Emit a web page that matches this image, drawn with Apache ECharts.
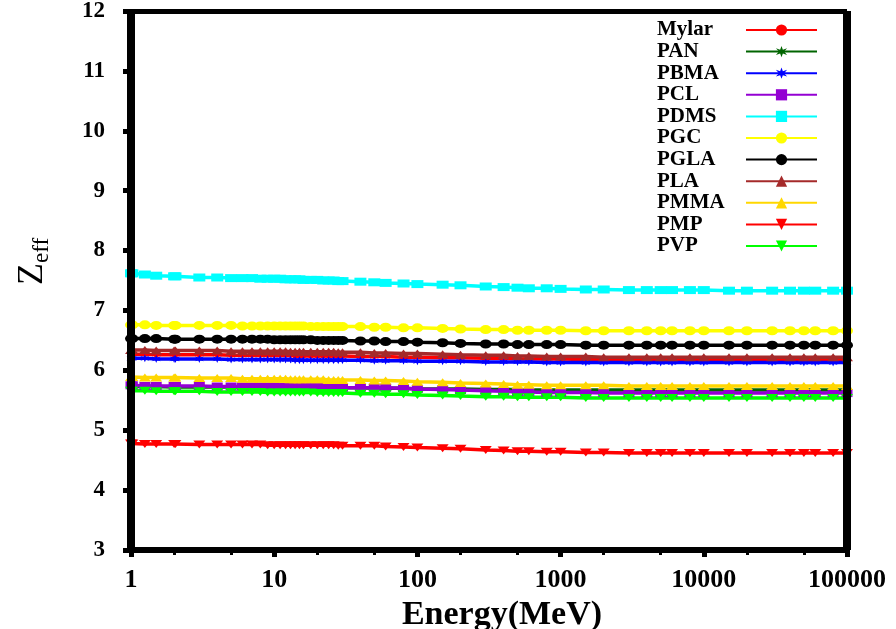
<!DOCTYPE html>
<html>
<head>
<meta charset="utf-8">
<script src="https://cdn.jsdelivr.net/npm/echarts@6/dist/echarts.min.js"></script>
<style>
  html, body { margin: 0; padding: 0; background: #ffffff; overflow: hidden; }
  #chart { width: 896px; height: 629px; }
</style>
</head>
<body>
<div id="chart"></div>
<script>
// Photon energies (MeV)
const energies = [1, 1.022, 1.25, 1.5, 2, 2.044, 3, 4, 5, 6, 7, 8, 9, 10,
  11, 12, 13, 14, 15, 16, 18, 20, 22, 24, 26, 28, 30,
  40, 50, 60, 80, 100, 150, 200, 300, 400, 500, 600, 800, 1000,
  1500, 2000, 3000, 4000, 5000, 6000, 8000, 10000,
  15000, 20000, 30000, 40000, 50000, 60000, 80000, 100000];

// Effective atomic number of each polymer at those energies
const mylar = [6.27,6.27,6.27,6.26,6.26,6.26, 6.26,6.26,6.25,6.25,6.25,6.25,6.25,6.25,
  6.25,6.25,6.25,6.24,6.24,6.24, 6.24,6.24,6.24,6.24,6.24,6.24,6.24,
  6.23,6.23,6.23,6.22,6.22, 6.21,6.21,6.20,6.20,6.19,6.19,6.19,6.19,
  6.18,6.18,6.18,6.18,6.18,6.18,6.18,6.18, 6.18,6.18,6.18,6.18,6.18,6.18,6.18,6.18];
const pan = [5.73,5.73,5.73,5.73,5.72,5.72, 5.72,5.72,5.72,5.72,5.72,5.72,5.72,5.72,
  5.72,5.71,5.71,5.71,5.71,5.71, 5.71,5.71,5.71,5.71,5.71,5.71,5.71,
  5.71,5.70,5.70,5.70,5.69, 5.69,5.69,5.68,5.68,5.68,5.67,5.67,5.67,
  5.67,5.67,5.67,5.67,5.67,5.67,5.67,5.67, 5.67,5.67,5.67,5.67,5.67,5.67,5.67,5.67];
const pbma = [6.20,6.20,6.20,6.19,6.19,6.19, 6.19,6.19,6.18,6.18,6.18,6.18,6.18,6.18,
  6.18,6.18,6.18,6.17,6.17,6.17, 6.17,6.17,6.17,6.17,6.17,6.17,6.17,
  6.17,6.16,6.16,6.16,6.15, 6.15,6.15,6.14,6.14,6.14,6.14,6.13,6.13,
  6.13,6.13,6.13,6.13,6.13,6.13,6.13,6.13, 6.13,6.13,6.13,6.13,6.13,6.13,6.13,6.13];
const pcl = [5.75,5.75,5.74,5.74,5.74,5.74, 5.74,5.73,5.73,5.73,5.73,5.73,5.73,5.73,
  5.72,5.72,5.72,5.72,5.72,5.72, 5.72,5.72,5.72,5.72,5.72,5.71,5.71,
  5.71,5.71,5.71,5.70,5.69, 5.68,5.67,5.66,5.65,5.64,5.64,5.63,5.63,
  5.63,5.62,5.62,5.62,5.62,5.62,5.62,5.62, 5.62,5.62,5.62,5.62,5.62,5.62,5.62,5.62];
const pdms = [7.62,7.62,7.60,7.58,7.57,7.57, 7.55,7.55,7.54,7.54,7.54,7.53,7.53,7.53,
  7.53,7.52,7.52,7.52,7.52,7.51, 7.51,7.51,7.50,7.50,7.50,7.49,7.49,
  7.48,7.47,7.46,7.45,7.44, 7.43,7.42,7.40,7.39,7.38,7.37,7.37,7.36,
  7.35,7.35,7.34,7.34,7.34,7.34,7.34,7.34, 7.33,7.33,7.33,7.33,7.33,7.33,7.33,7.33];
const pgc = [6.76,6.76,6.76,6.75,6.75,6.75, 6.75,6.75,6.75,6.74,6.74,6.74,6.74,6.74,
  6.74,6.74,6.74,6.74,6.74,6.74, 6.73,6.73,6.73,6.73,6.73,6.73,6.73,
  6.73,6.72,6.72,6.71,6.71, 6.70,6.69,6.68,6.68,6.67,6.67,6.67,6.67,
  6.66,6.66,6.66,6.66,6.66,6.66,6.66,6.66, 6.66,6.66,6.66,6.66,6.66,6.66,6.66,6.66];
const pgla = [6.53,6.53,6.53,6.53,6.52,6.52, 6.52,6.52,6.52,6.52,6.52,6.52,6.52,6.51,
  6.51,6.51,6.51,6.51,6.51,6.51, 6.51,6.50,6.50,6.50,6.50,6.50,6.50,
  6.49,6.49,6.48,6.48,6.47, 6.46,6.45,6.44,6.44,6.43,6.43,6.43,6.43,
  6.42,6.42,6.42,6.42,6.42,6.42,6.42,6.42, 6.42,6.42,6.42,6.42,6.42,6.42,6.42,6.42];
const pla = [6.34,6.34,6.34,6.33,6.33,6.33, 6.33,6.33,6.32,6.32,6.32,6.32,6.32,6.32,
  6.32,6.32,6.31,6.31,6.31,6.31, 6.31,6.31,6.31,6.31,6.31,6.30,6.30,
  6.30,6.29,6.29,6.28,6.28, 6.27,6.26,6.25,6.25,6.24,6.24,6.23,6.23,
  6.23,6.22,6.22,6.22,6.22,6.22,6.22,6.22, 6.22,6.22,6.22,6.22,6.22,6.22,6.22,6.22];
const pmma = [5.89,5.89,5.88,5.88,5.88,5.88, 5.87,5.87,5.87,5.86,5.86,5.86,5.86,5.86,
  5.86,5.86,5.85,5.85,5.85,5.85, 5.85,5.85,5.85,5.84,5.84,5.84,5.84,
  5.84,5.83,5.83,5.82,5.81, 5.80,5.79,5.78,5.77,5.76,5.76,5.75,5.75,
  5.75,5.75,5.74,5.74,5.74,5.74,5.74,5.74, 5.74,5.74,5.74,5.74,5.74,5.74,5.74,5.74];
const pmp = [4.78,4.78,4.77,4.77,4.77,4.77, 4.76,4.76,4.76,4.76,4.76,4.76,4.75,4.75,
  4.75,4.75,4.75,4.75,4.75,4.75, 4.75,4.75,4.75,4.75,4.75,4.74,4.74,
  4.74,4.74,4.73,4.72,4.71, 4.70,4.69,4.67,4.66,4.65,4.65,4.64,4.64,
  4.63,4.63,4.62,4.62,4.62,4.62,4.62,4.62, 4.62,4.62,4.62,4.62,4.62,4.62,4.62,4.62];
const pvp = [5.66,5.66,5.66,5.65,5.65,5.65, 5.65,5.64,5.64,5.64,5.64,5.64,5.63,5.63,
  5.63,5.63,5.63,5.63,5.63,5.63, 5.63,5.62,5.62,5.62,5.62,5.62,5.62,
  5.61,5.61,5.60,5.60,5.59, 5.58,5.57,5.56,5.56,5.55,5.55,5.55,5.55,
  5.54,5.54,5.54,5.54,5.54,5.54,5.54,5.54, 5.54,5.54,5.54,5.54,5.54,5.54,5.54,5.54];

const seriesNames = ['Mylar', 'PAN', 'PBMA', 'PCL', 'PDMS', 'PGC', 'PGLA', 'PLA', 'PMMA', 'PMP', 'PVP'];
const seriesValues = [mylar, pan, pbma, pcl, pdms, pgc, pgla, pla, pmma, pmp, pvp];

// Minor tick positions on the energy axis
const minorTickValues = [2, 5, 20, 50, 200, 500, 2000, 5000, 20000, 50000];

// Six-pointed asterisk used as a marker
const asterisk = 'path://M0,-10 L2.2,-3.5 9,-6 4.2,0 9,6 2.2,3.5 0,10 -2.2,3.5 -9,6 -4.2,0 -9,-6 -2.2,-3.5Z';

const styles = [
  { color: '#ff0000', symbol: 'circle',   size: 5,        rotate: 0 },
  { color: '#006400', symbol: asterisk,   size: [9, 8],   rotate: 0 },
  { color: '#0000ff', symbol: asterisk,   size: [9, 8],   rotate: 0 },
  { color: '#9400d3', symbol: 'rect',     size: [11, 8],  rotate: 0 },
  { color: '#00ffff', symbol: 'rect',     size: [12, 8],  rotate: 0 },
  { color: '#ffff00', symbol: 'circle',   size: [12, 9],  rotate: 0 },
  { color: '#000000', symbol: 'circle',   size: [12, 9],  rotate: 0 },
  { color: '#a52a2a', symbol: 'triangle', size: [12, 8],  rotate: 0 },
  { color: '#ffd700', symbol: 'triangle', size: [12, 8],  rotate: 0 },
  { color: '#ff0000', symbol: 'triangle', size: [12, 8],  rotate: 180 },
  { color: '#00ff00', symbol: 'triangle', size: [12, 8],  rotate: 180 }
];

const serif = '"Liberation Serif", "Times New Roman", serif';

const series = seriesNames.map((name, k) => ({
  name: name,
  type: 'line',
  xAxisIndex: 0,
  yAxisIndex: 0,
  data: energies.map((e, i) => [e, seriesValues[k][i]]),
  symbol: styles[k].symbol,
  symbolSize: styles[k].size,
  symbolRotate: styles[k].rotate,
  showSymbol: true,
  clip: false,
  itemStyle: { color: styles[k].color },
  lineStyle: { color: styles[k].color, width: 3.5 },
  emphasis: { disabled: true },
  animation: false
}));

const legendText = { color: '#000', fontFamily: serif, fontWeight: 'bold', fontSize: 21 };

const chart = echarts.init(document.getElementById('chart'), null, { renderer: 'canvas' });

chart.setOption({
  backgroundColor: '#ffffff',
  animation: false,
  grid: {
    left: 131, right: 49, top: 11, bottom: 79,
    containLabel: false, outerBoundsMode: 'none'
  },
  xAxis: [
    {
      type: 'log', logBase: 10, min: 1, max: 100000, position: 'bottom', z: 5,
      axisLine: { show: true, onZero: false, lineStyle: { color: '#000', width: 6, cap: 'butt' } },
      axisTick: { show: true, length: 7, lineStyle: { color: '#000', width: 5 } },
      splitLine: { show: false },
      axisLabel: {
        color: '#000', fontFamily: serif, fontWeight: 'bold', fontSize: 26, margin: 17,
        formatter: function (v) { return String(v); }
      },
      name: 'Energy(MeV)', nameLocation: 'middle', nameGap: 40,
      nameTextStyle: { color: '#000', fontFamily: serif, fontWeight: 'bold', fontSize: 34, padding: [0, 0, 0, 26] }
    },
    {
      type: 'log', logBase: 10, min: 1, max: 100000, position: 'bottom', z: 5,
      axisLine: { show: false, onZero: false },
      axisTick: { show: true, length: 5, customValues: minorTickValues, lineStyle: { color: '#000', width: 3 } },
      axisLabel: { show: false }, splitLine: { show: false }
    },
    {
      type: 'log', logBase: 10, min: 1, max: 100000, position: 'top', z: 5,
      axisLine: { show: true, onZero: false, lineStyle: { color: '#000', width: 5, cap: 'butt' } },
      axisTick: { show: false }, axisLabel: { show: false }, splitLine: { show: false }
    }
  ],
  yAxis: [
    {
      type: 'value', min: 3, max: 12, interval: 1, position: 'left', z: 5,
      axisLine: { show: true, onZero: false, lineStyle: { color: '#000', width: 8, cap: 'butt' } },
      axisTick: { show: true, length: 8, lineStyle: { color: '#000', width: 5 } },
      splitLine: { show: false },
      axisLabel: { color: '#000', fontFamily: serif, fontWeight: 'bold', fontSize: 23, margin: 26 },
      name: '{z|Z}{s|eff}', nameLocation: 'middle', nameGap: 78, nameRotate: 90,
      nameTextStyle: {
        color: '#000',
        padding: [0, 0, 0, 38],
        rich: {
          z: { fontFamily: serif, fontSize: 36, color: '#000', verticalAlign: 'bottom', padding: [0, 0, 2, 0] },
          s: { fontFamily: serif, fontSize: 23, color: '#000', verticalAlign: 'bottom' }
        }
      }
    },
    {
      type: 'value', min: 3, max: 12, interval: 1, position: 'right', z: 5,
      axisLine: { show: true, onZero: false, lineStyle: { color: '#000', width: 8, cap: 'butt' } },
      axisTick: { show: false }, axisLabel: { show: false }, splitLine: { show: false }
    }
  ],
  legend: [
    {
      // names, left-aligned
      data: seriesNames, orient: 'vertical', left: 652, top: 19.5, padding: 0, align: 'left',
      icon: 'rect', itemWidth: 0, itemHeight: 14, itemGap: 0.6,
      selectedMode: false,
      textStyle: legendText
    },
    {
      // line-and-marker keys
      data: seriesNames, orient: 'vertical', left: 745, top: 19.5, padding: 0, align: 'left',
      itemWidth: 71, itemHeight: 14, itemGap: 0.6,
      selectedMode: false,
      formatter: function () { return ' '; },
      textStyle: legendText
    }
  ],
  series: series
});
</script>
</body>
</html>
